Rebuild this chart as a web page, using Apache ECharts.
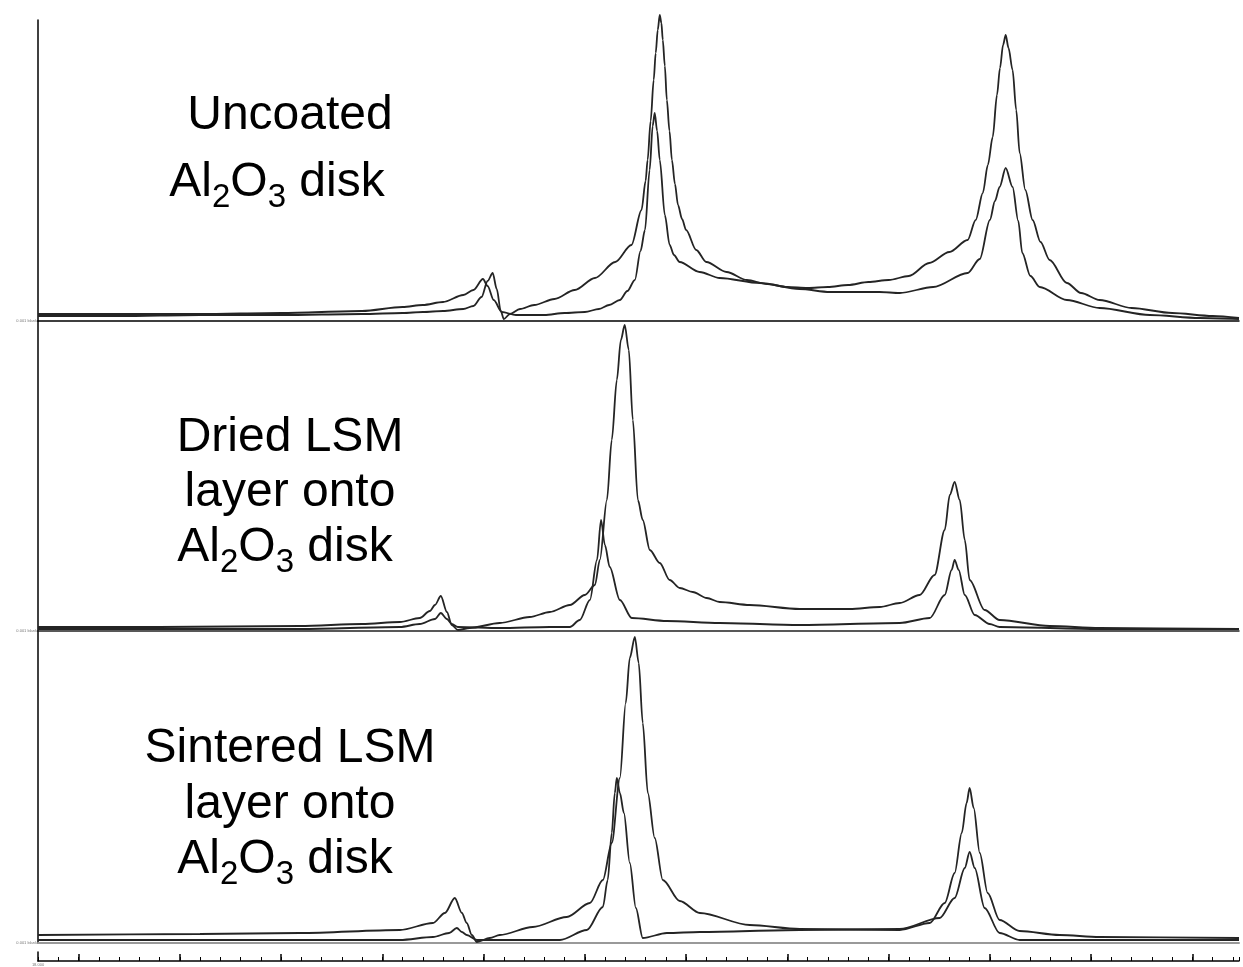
<!DOCTYPE html>
<html lang="en">
<head>
    <meta charset="UTF-8">
    <title>XRD patterns</title>
    <script src="https://cdn.jsdelivr.net/npm/echarts@6.0.0/dist/echarts.min.js"></script>
    <style>
        html, body { margin: 0; padding: 0; background: #fff; }
        #main { width: 1243px; height: 967px; }
    </style>
</head>
<body>
<div id="main"></div>
<script>
    // 2-theta range of the scan
    var thetaMin = 18;
    var thetaMax = 77.3;

    // uncoated Al2O3 disk: [2theta, intensity]
    var uncoatedBroad = [[18,5],[22,5],[26,6],[30,6],[34,7],[36,8],[37,9],[38,10],[39,12],[39.5,15],[39.9,24],[40.2,40],[40.45,48],[40.65,32],[40.85,10],[41.0,2],[41.3,7],[41.8,12],[42.5,16],[43.5,22],[44.5,31],[45.5,43],[46.5,59],[47.3,76],[47.8,111],[48.0,140],[48.1,161],[48.25,200],[48.4,241],[48.5,268],[48.6,291],[48.7,306],[48.78,298],[48.85,281],[48.95,255],[49.05,221],[49.18,190],[49.3,161],[49.45,137],[49.6,116],[49.8,102],[50,91],[50.5,71],[51,59],[52,49],[53,41],[54,37],[55,34],[56,33],[57,34],[58,36],[59,39],[60,41],[61,45],[62,58],[63,69],[63.9,81],[64.3,101],[64.65,128],[64.9,156],[65.14,184],[65.35,226],[65.5,253],[65.65,276],[65.78,286],[65.92,273],[66.12,251],[66.3,211],[66.47,168],[66.75,131],[67.11,101],[67.5,79],[67.95,61],[68.8,38],[69.5,28],[70.42,21],[72,13],[74,8],[76,5],[77.3,3]];
    var uncoatedSharp = [[18,7],[22,7],[26,7],[30,8],[34,10],[36,14],[37,16],[38,19],[39,26],[39.5,31],[39.97,42],[40.2,35],[40.5,21],[40.9,9],[41.6,6],[43,6],[44,8],[45,9],[45.7,12],[46.2,16],[46.73,21],[47.1,30],[47.47,41],[47.75,70],[47.97,91],[48.2,151],[48.35,195],[48.45,208],[48.57,190],[48.7,161],[48.95,106],[49.19,76],[49.4,66],[49.68,59],[50.67,49],[51.66,43],[53.64,38],[55.6,32],[57.1,29],[59.56,29],[60.55,28],[62.2,34],[63.9,48],[64.5,62],[65.0,101],[65.25,120],[65.48,134],[65.78,153],[66.12,134],[66.4,100],[66.6,68],[67.0,45],[67.46,34],[68.8,21],[70.42,13],[72.9,6],[75.35,3],[77.3,2]];

    // dried LSM layer
    var driedBroad = [[18,4],[24,4],[30.93,5],[34,7],[35.87,9],[36.85,13],[37.35,20],[37.6,26],[37.89,35],[38.19,19],[38.43,6],[38.73,1],[39.32,3],[40.8,8],[42.28,14],[43.27,19],[44.26,26],[45.0,36],[45.5,46],[45.74,71],[46.09,131],[46.33,191],[46.58,251],[46.78,291],[46.97,306],[47.17,281],[47.37,211],[47.62,131],[47.86,111],[48.21,81],[48.7,68],[49.19,51],[49.69,43],[50.33,39],[51.02,33],[51.66,29],[53.14,26],[55.61,22],[58.08,22],[59.56,24],[60.55,28],[61.53,36],[62.27,56],[62.77,101],[63.02,136],[63.26,149],[63.51,131],[63.76,91],[64.0,51],[64.74,21],[65.48,11],[67.95,5],[70.42,3],[77.3,2]];
    var driedSharp = [[18,2],[30.93,2],[35.87,4],[36.85,7],[37.6,12],[37.89,18],[38.19,12],[38.43,7],[38.73,4],[40.8,3],[43.27,4],[44.26,4],[44.75,11],[45.25,31],[45.6,71],[45.8,111],[45.99,86],[46.23,64],[46.73,31],[47.32,13],[49.05,10],[51.66,8],[55.61,6],[60.55,8],[62.03,13],[62.77,36],[63.11,61],[63.26,71],[63.46,61],[63.76,36],[64.25,16],[64.99,7],[65.48,4],[70.42,2],[77.3,2]];

    // sintered LSM layer
    var sinteredBroad = [[18,8],[26,9],[30.93,10],[35.87,13],[37.5,20],[38.09,30],[38.58,45],[38.93,30],[39.17,20],[39.42,8],[39.67,1],[40.31,5],[40.8,8],[42.43,16],[44.11,26],[45.25,40],[45.89,63],[46.33,100],[46.73,165],[47.02,240],[47.22,285],[47.47,306],[47.66,280],[47.86,220],[48.11,150],[48.45,105],[48.85,63],[49.69,42],[50.68,30],[53.14,18],[55.61,14],[60.55,13],[62.03,20],[62.77,40],[63.26,70],[63.61,110],[63.85,140],[64.0,155],[64.2,135],[64.5,90],[64.89,50],[65.48,23],[66.47,12],[68.44,8],[70.42,6],[77.3,5]];
    var sinteredSharp = [[18,3],[30.93,3],[35.87,3],[37.5,6],[38.3,10],[38.68,15],[38.93,11],[39.17,8],[39.67,3],[40.8,3],[43.77,3],[45.1,13],[45.89,36],[46.13,63],[46.33,110],[46.48,150],[46.58,165],[46.73,150],[46.93,130],[47.22,80],[47.52,35],[47.86,5],[49.05,10],[50.68,11],[55.61,13],[60.55,14],[62.52,25],[63.26,45],[63.76,75],[64.0,91],[64.25,75],[64.74,35],[65.48,10],[66.47,3],[77.3,3]];

    // scan axis ticks (every degree, long tick every 5)
    var majorTicks = [];
    for (var t = 20; t <= 75; t += 5) majorTicks.push(t);

    var font = 'Liberation Sans, Arial, sans-serif';

    function label(text, x, top) {
        return {
            text: text, left: x, top: top, textAlign: 'center', padding: 0,
            textStyle: {
                fontFamily: font, fontSize: 48, lineHeight: 48, fontWeight: 'normal', color: '#000',
                rich: {
                    m: {fontFamily: font, fontSize: 48, lineHeight: 48, verticalAlign: 'top', color: '#000'},
                    s: {fontFamily: font, fontSize: 33, lineHeight: 33, verticalAlign: 'top', padding: [22, 0, 0, 0], color: '#000'}
                }
            }
        };
    }
    var alumina = '{m|Al}{s|2}{m|O}{s|3}{m| disk}';

    function panelY(idx, max) {
        return {
            gridIndex: idx, type: 'value', min: 0, max: max,
            axisLine: {show: true, lineStyle: {color: '#000', width: 1.5}},
            axisTick: {show: false},
            splitLine: {show: false},
            axisLabel: {
                show: true, customValues: [0], margin: 1,
                fontSize: 4, color: '#777', fontFamily: font,
                formatter: function () { return '0.001 blank'; }
            }
        };
    }
    function panelX(idx, lineColor, lineWidth) {
        return {
            gridIndex: idx, type: 'value', min: thetaMin, max: thetaMax,
            axisLine: {show: true, onZero: false, lineStyle: {color: lineColor, width: lineWidth}},
            axisTick: {show: false}, axisLabel: {show: false}, splitLine: {show: false}
        };
    }
    function trace(name, data, idx) {
        return {
            name: name, type: 'line', data: data, xAxisIndex: idx, yAxisIndex: idx,
            showSymbol: false, clip: false, smooth: 0.3, smoothMonotone: 'x',
            lineStyle: {color: '#242424', width: 1.8}
        };
    }

    var myChart = echarts.init(document.getElementById('main'));
    var option = {
        animation: false,
        backgroundColor: '#fff',
        title: [
            label('Uncoated', 290, 92),
            label(alumina, 277, 159),
            label('Dried LSM', 290, 414),
            label('layer onto', 290, 469),
            label(alumina, 285, 524),
            label('Sintered LSM', 290, 725),
            label('layer onto', 290, 781),
            label(alumina, 285, 836)
        ],
        grid: [
            {left: 38, right: 4, top: 20, height: 301},
            {left: 38, right: 4, top: 321, height: 310},
            {left: 38, right: 4, top: 631, height: 312},
            {left: 38, right: 4, top: 952, height: 10}
        ],
        xAxis: [
            panelX(0, '#000', 1.5),
            panelX(1, '#222', 1.5),
            panelX(2, '#999', 2),
            {
                gridIndex: 3, type: 'value', min: thetaMin, max: thetaMax, interval: 1, position: 'bottom',
                axisLine: {show: true, onZero: false, lineStyle: {color: '#000', width: 1.5}},
                axisTick: {show: true, inside: true, length: 4, lineStyle: {color: '#000', width: 1}},
                axisLabel: {
                    show: true, customValues: [thetaMin], margin: 2, fontSize: 4, color: '#777',
                    formatter: function () { return '18.000'; }
                },
                splitLine: {show: false}
            },
            {
                gridIndex: 3, type: 'value', min: thetaMin, max: thetaMax, position: 'bottom',
                axisLine: {show: false},
                axisTick: {show: true, inside: true, length: 7, customValues: majorTicks, lineStyle: {color: '#000', width: 1.5}},
                axisLabel: {show: false}, splitLine: {show: false}
            }
        ],
        yAxis: [
            panelY(0, 301),
            panelY(1, 310),
            panelY(2, 312),
            {
                gridIndex: 3, type: 'value', min: 0, max: 1,
                axisLine: {show: true, lineStyle: {color: '#000', width: 1.5}},
                axisTick: {show: false}, axisLabel: {show: false}, splitLine: {show: false}
            }
        ],
        series: [
            trace('Uncoated broad', uncoatedBroad, 0),
            trace('Uncoated sharp', uncoatedSharp, 0),
            trace('Dried broad', driedBroad, 1),
            trace('Dried sharp', driedSharp, 1),
            trace('Sintered broad', sinteredBroad, 2),
            trace('Sintered sharp', sinteredSharp, 2)
        ]
    };
    myChart.setOption(option);
</script>
</body>
</html>
